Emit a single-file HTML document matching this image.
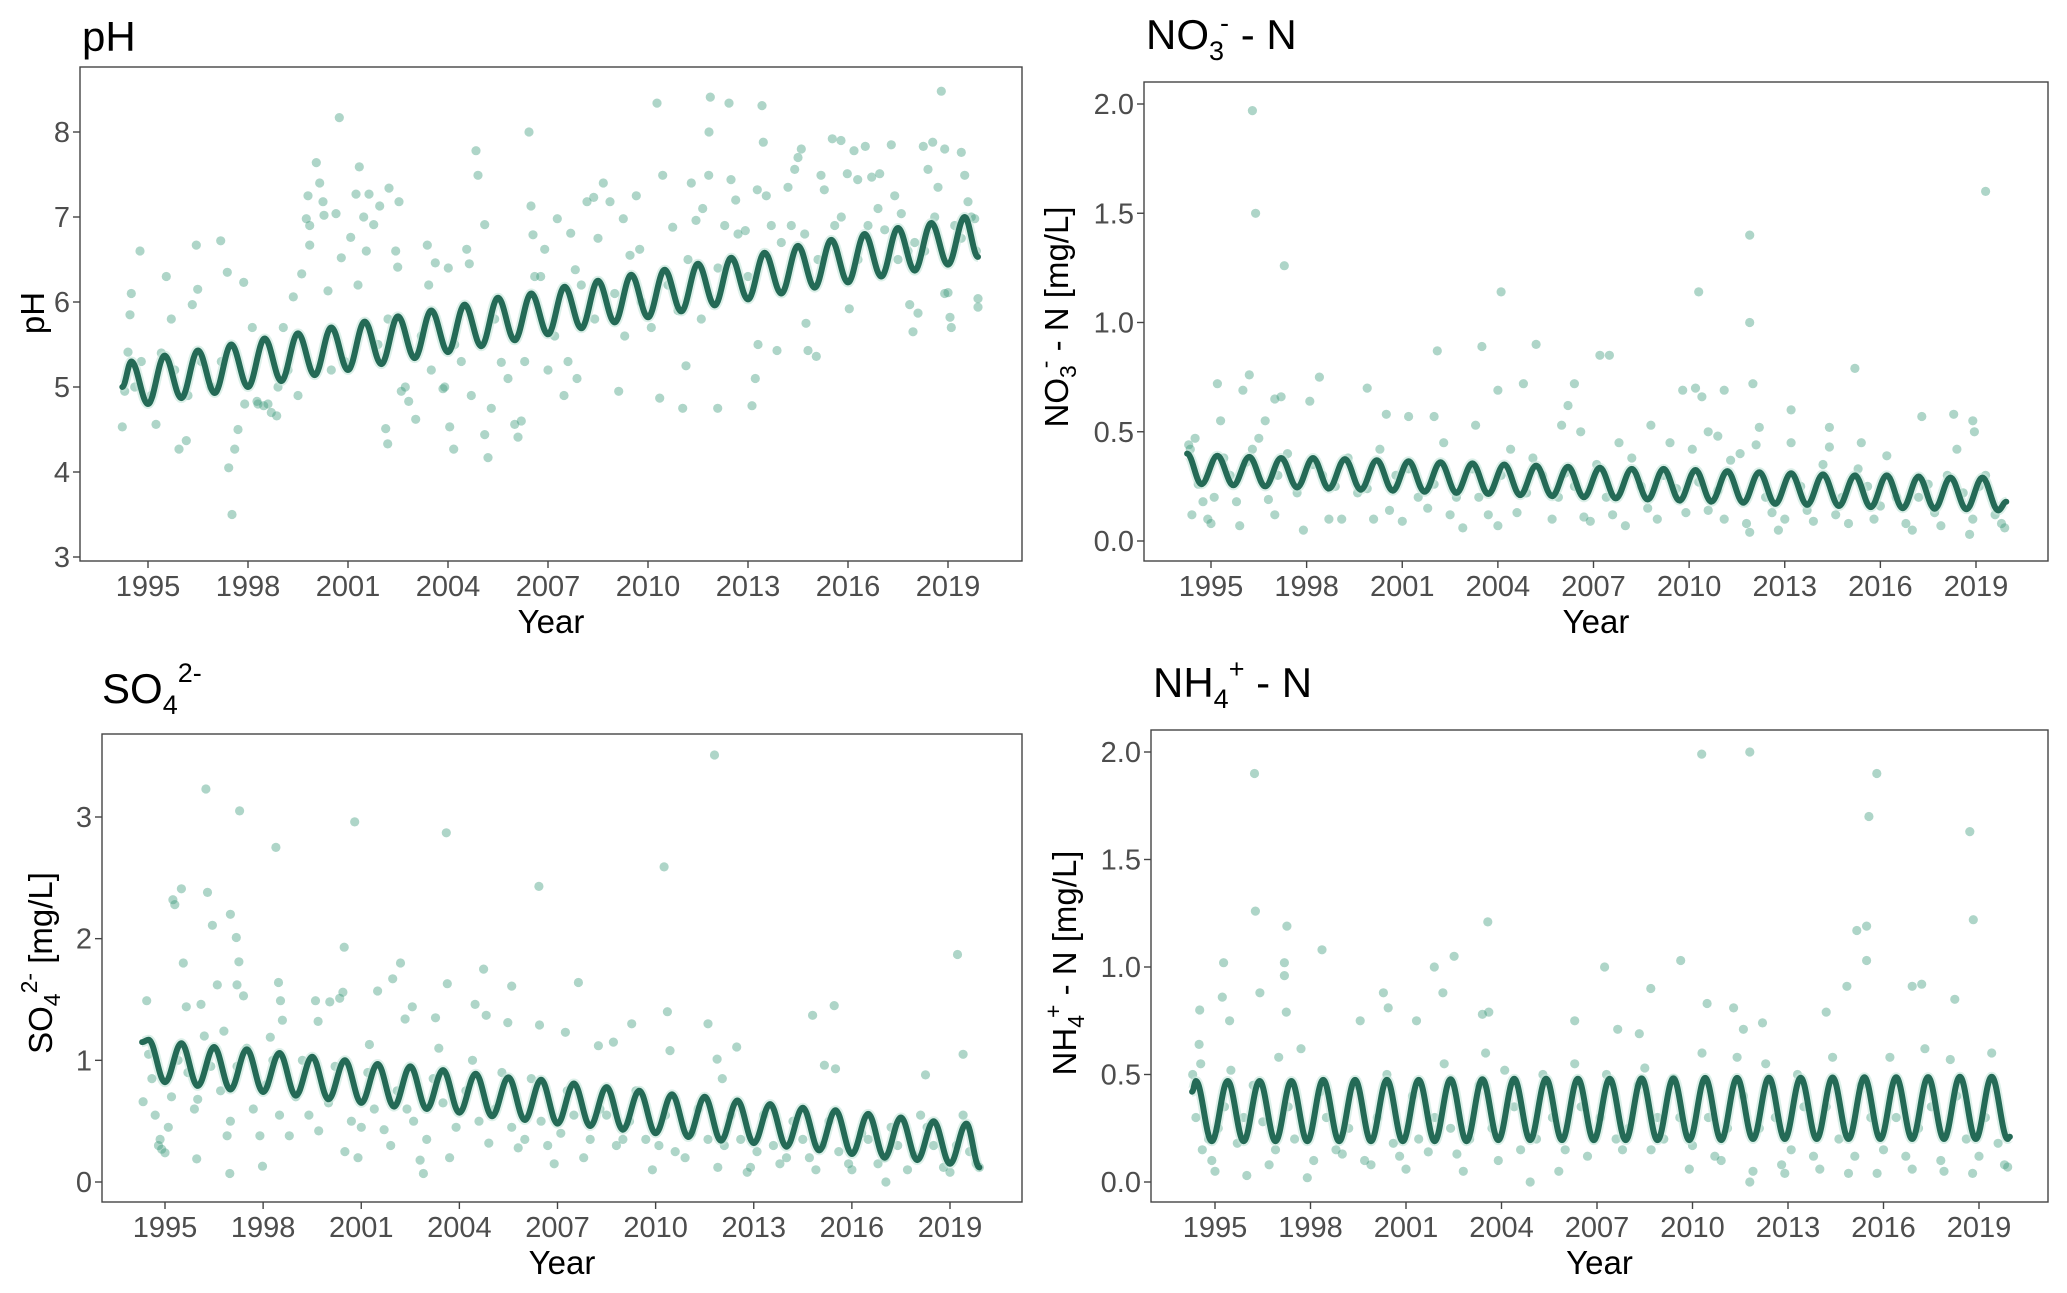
<!DOCTYPE html>
<html><head><meta charset="utf-8"><style>
html,body{margin:0;padding:0;background:#fff}
svg{display:block;font-family:"Liberation Sans",Arial,sans-serif}
</style></head><body>
<svg id="fig" width="2067" height="1293" viewBox="0 0 2067 1293" xmlns="http://www.w3.org/2000/svg">
<rect x="0" y="0" width="2067" height="1293" fill="#fff"/>
<g id="root"></g>
</svg>
<script>
// ---------- pH ----------
const phPtYears=[1994.23,1994.3,1994.4,1994.5,1994.46,1994.76,1994.8,1995.24,1995.55,1995.7,1995.93,1996.15,1996.33,1996.45,1996.49,1997.18,1997.38,1997.42,1997.52,1997.6,1997.87,1998.13,1998.27,1998.47,1998.86,1999.06,1999.36,1999.61,1999.75,1999.8,1999.85,1999.85,2000.05,2000.15,2000.25,2000.28,2000.4,2000.64,2000.74,2000.8,2001.08,2001.24,2001.34,2001.47,2001.55,2001.63,2001.77,2001.95,2002.23,2002.43,2002.49,2002.53,2002.13,2002.19,2002.72,2002.82,2003.03,2003.38,2003.42,2003.62,2004.01,2004.05,2004.17,2003.85,2004.56,2004.64,2004.84,2004.9,2005.1,2005.1,2005.2,2005.3,2005.6,2006.43,2006.49,2006.55,2006.0,2006.1,2006.78,2006.9,2007.28,2007.48,2007.68,2007.82,2007.87,2008.17,2008.37,2008.66,2008.86,2009.12,2009.26,2009.46,2009.65,2009.75,2010.27,2010.44,2010.35,2010.74,2011.04,2011.14,2011.3,2011.44,2011.64,2011.82,2011.87,2011.83,2012.09,2012.43,2012.49,2012.63,2012.92,2013.12,2013.22,2013.28,2013.42,2013.46,2013.55,2013.87,2014.2,2014.4,2014.5,2014.6,2014.74,2014.8,2015.05,2015.19,2015.29,2015.53,2015.79,2015.98,2016.04,2016.18,2016.29,2016.52,2016.71,2016.95,2017.3,2017.4,2017.6,2017.85,2017.95,2018.1,2018.26,2018.4,2018.54,2018.7,2018.8,2018.9,2019.0,2019.06,2019.1,2019.4,2019.5,2019.6,2019.8,2019.9,2019.9,
1994.6,1995.1,1995.4,1995.8,1996.2,1996.6,1996.9,1997.2,1997.7,1997.9,1998.3,1998.6,1998.7,1998.9,1999.2,1999.5,2000.5,2000.9,2001.3,2001.9,2002.2,2002.6,2003.2,2003.5,2003.9,2004.2,2004.4,2004.7,2005.4,2005.8,2006.2,2006.3,2006.6,2007.0,2007.2,2007.6,2008.0,2008.4,2008.5,2009.0,2009.3,2009.8,2010.1,2010.6,2010.9,2011.2,2011.6,2012.1,2012.3,2012.7,2013.0,2013.3,2013.7,2014.0,2014.3,2014.7,2015.1,2015.6,2015.8,2016.3,2016.6,2016.9,2017.1,2017.5,2017.8,2018.0,2018.3,2018.6,2018.9,2019.2,2019.4,2019.7,2019.85];
const phPtValues=[4.53,4.95,5.41,6.1,5.85,6.6,5.3,4.56,6.3,5.8,4.27,4.37,5.97,6.67,6.15,6.72,6.35,4.05,3.5,4.27,6.23,5.7,4.83,4.78,4.66,5.7,6.06,6.33,6.98,7.25,6.9,6.67,7.64,7.4,7.18,7.02,6.13,7.04,8.17,6.52,6.76,7.27,7.59,7.0,6.6,7.27,6.91,7.13,7.34,6.6,6.41,7.18,4.51,4.33,5.0,4.83,4.62,6.67,6.2,6.46,6.4,4.53,4.27,4.98,6.62,6.45,7.78,7.49,6.91,4.44,4.17,4.75,5.29,8.0,7.13,6.79,4.56,4.41,6.3,6.62,6.98,4.9,6.81,6.38,5.1,7.18,7.23,7.4,7.18,4.95,6.98,6.55,7.25,6.62,8.34,7.49,4.87,6.88,4.75,5.25,7.4,6.96,7.1,7.49,8.41,8.0,4.75,8.34,7.44,7.2,6.84,4.78,5.1,7.32,8.31,7.88,7.25,5.43,7.35,7.56,7.7,7.8,5.75,5.43,5.36,7.49,7.32,7.92,7.9,7.51,5.92,7.78,7.44,7.83,7.47,7.51,7.85,7.25,7.04,5.97,5.65,5.87,7.83,7.56,7.88,7.35,8.48,7.8,6.11,5.82,5.7,7.76,7.49,7.18,6.98,6.04,5.94,
5.0,4.9,5.4,5.2,4.9,5.3,5.0,5.3,4.5,4.8,4.8,4.8,4.7,5.0,5.2,4.9,5.2,5.3,6.2,5.5,5.8,4.95,5.6,5.2,5.0,5.5,5.3,4.9,5.8,5.1,4.6,5.3,6.3,5.2,5.6,5.3,6.2,5.8,6.75,6.1,5.6,6.0,5.7,6.2,5.9,6.5,5.8,6.4,6.9,6.8,6.3,5.5,6.9,6.7,6.9,6.8,6.5,6.9,7.0,6.5,6.9,7.1,6.85,6.5,6.6,6.7,6.6,7.0,6.1,6.9,6.75,7.0,6.6];
const phCurveYears=[1994.23,1994.5,1995,1995.5,1996,1996.5,1997,1997.5,1998,1998.5,1999,1999.5,2000,2000.5,2001,2001.5,2002,2002.5,2003,2003.5,2004,2004.5,2005,2005.5,2006,2006.5,2007,2007.5,2008,2008.5,2009,2009.5,2010,2010.5,2011,2011.5,2012,2012.5,2013,2013.5,2014,2014.5,2015,2015.5,2016,2016.5,2017,2017.5,2018,2018.5,2019,2019.5,2019.9];
const phCurveValues=[5.0,5.3,4.8,5.37,4.87,5.43,4.93,5.5,5.0,5.57,5.07,5.63,5.14,5.7,5.2,5.77,5.27,5.83,5.34,5.9,5.41,5.97,5.48,6.05,5.55,6.1,5.62,6.18,5.69,6.25,5.76,6.32,5.82,6.38,5.89,6.45,5.96,6.52,6.03,6.58,6.1,6.66,6.17,6.73,6.23,6.8,6.3,6.87,6.37,6.93,6.44,7.0,6.53];
const phYTicks=[3,4,5,6,7,8];

// ---------- NO3 ----------
const no3PtYears=[1996.3,1996.4,1997.3,2004.1,2010.3,2011.9,2011.9,2019.3,2002.1,2003.5,2005.2,2007.2,2007.5,2015.2,1998.4,1996.2,1995.2,1996.0,1999.9,2006.4,2004.0,2004.8,2010.2,2009.8,2010.4,2011.1,2012.0,1997.0,1997.2,1998.1,2006.2,2013.2,2018.3,2017.3,2018.9,2000.5,2001.2,2002.0,1995.3,1996.7,2003.3,2006.0,2006.6,2008.8,2010.6,2010.9,2012.2,2014.4,2015.4,2018.95,
1994.3,1994.35,1994.4,1994.5,1994.6,1994.75,1994.9,1995.0,1995.1,1995.4,1995.6,1995.8,1995.9,1996.1,1996.3,1996.5,1996.8,1997.0,1997.1,1997.4,1997.7,1997.9,1998.2,1998.5,1998.7,1998.9,1999.1,1999.3,1999.6,1999.9,2000.1,2000.3,2000.6,2000.8,2001.0,2001.2,2001.5,2001.8,2002.0,2002.3,2002.5,2002.7,2002.9,2003.2,2003.4,2003.7,2004.0,2004.1,2004.4,2004.6,2004.9,2005.1,2005.4,2005.7,2005.9,2006.1,2006.4,2006.7,2006.9,2007.1,2007.4,2007.6,2007.8,2008.0,2008.2,2008.5,2008.7,2009.0,2009.2,2009.4,2009.6,2009.9,2010.1,2010.3,2010.6,2010.9,2011.1,2011.3,2011.6,2011.8,2011.9,2012.1,2012.4,2012.6,2012.8,2013.0,2013.2,2013.5,2013.7,2013.9,2014.2,2014.4,2014.6,2014.8,2015.0,2015.3,2015.6,2015.8,2016.0,2016.2,2016.5,2016.8,2017.0,2017.2,2017.5,2017.7,2017.9,2018.1,2018.4,2018.6,2018.8,2018.9,2019.1,2019.3,2019.6,2019.8,2019.9];
const no3PtValues=[1.97,1.5,1.26,1.14,1.14,1.4,1.0,1.6,0.87,0.89,0.9,0.85,0.85,0.79,0.75,0.76,0.72,0.69,0.7,0.72,0.69,0.72,0.7,0.69,0.66,0.69,0.72,0.65,0.66,0.64,0.62,0.6,0.58,0.57,0.55,0.58,0.57,0.57,0.55,0.55,0.53,0.53,0.5,0.53,0.5,0.48,0.52,0.52,0.45,0.5,
0.44,0.42,0.12,0.47,0.26,0.18,0.1,0.08,0.2,0.38,0.3,0.18,0.07,0.36,0.42,0.47,0.19,0.12,0.3,0.4,0.22,0.05,0.35,0.3,0.1,0.25,0.1,0.38,0.22,0.24,0.1,0.42,0.14,0.3,0.09,0.33,0.2,0.15,0.26,0.45,0.12,0.2,0.06,0.33,0.2,0.12,0.07,0.3,0.42,0.13,0.22,0.38,0.3,0.1,0.2,0.31,0.25,0.11,0.09,0.35,0.2,0.12,0.45,0.07,0.38,0.25,0.15,0.1,0.3,0.45,0.24,0.13,0.42,0.27,0.14,0.23,0.1,0.37,0.4,0.08,0.04,0.44,0.2,0.13,0.05,0.1,0.45,0.25,0.14,0.09,0.35,0.43,0.12,0.2,0.08,0.33,0.25,0.1,0.16,0.39,0.2,0.08,0.05,0.2,0.26,0.13,0.07,0.3,0.42,0.22,0.03,0.1,0.25,0.3,0.12,0.08,0.06];
const no3CurveYears=[1994.25,1994.7,1995.2,1995.7,1996.2,1996.7,1997.2,1997.7,1998.2,1998.7,1999.2,1999.7,2000.2,2000.7,2001.2,2001.7,2002.2,2002.7,2003.2,2003.7,2004.2,2004.7,2005.2,2005.7,2006.2,2006.7,2007.2,2007.7,2008.2,2008.7,2009.2,2009.7,2010.2,2010.7,2011.2,2011.7,2012.2,2012.7,2013.2,2013.7,2014.2,2014.7,2015.2,2015.7,2016.2,2016.7,2017.2,2017.7,2018.2,2018.7,2019.2,2019.7,2019.95];
const no3CurveValues=[0.40,0.26,0.39,0.255,0.385,0.25,0.38,0.245,0.38,0.24,0.375,0.235,0.37,0.23,0.365,0.225,0.36,0.22,0.355,0.215,0.35,0.21,0.345,0.205,0.34,0.2,0.335,0.195,0.33,0.19,0.33,0.185,0.325,0.18,0.32,0.175,0.315,0.17,0.31,0.165,0.305,0.16,0.3,0.155,0.3,0.15,0.295,0.148,0.29,0.145,0.29,0.14,0.18];
const no3YTicks=[0,0.5,1.0,1.5,2.0];

// ---------- SO4 ----------
const so4PtYears=[1994.33,1994.44,1995.24,1995.3,1995.5,1995.56,1995.65,1995.97,1996.1,1996.25,1996.3,1996.45,1996.6,1996.8,1996.98,1997.0,1997.18,1997.26,1997.28,1997.2,1997.4,1997.98,1998.22,1998.39,1998.47,1998.53,1998.59,1999.6,1999.68,2000.04,2000.34,2000.44,2000.48,2000.8,2001.25,2001.5,2001.96,2002.2,2002.56,2002.34,2002.9,2003.27,2003.37,2003.6,2003.63,2004.48,2004.74,2004.82,2005.6,2005.48,2006.43,2006.45,2007.24,2007.64,2008.25,2008.71,2009.27,2010.26,2010.36,2010.44,2011.6,2011.8,2011.88,2012.04,2012.48,2014.8,2015.16,2015.46,2015.5,2017.04,2018.25,2019.23,2019.4,
1994.5,1994.6,1994.7,1994.8,1994.85,1994.9,1995.0,1995.1,1995.2,1995.4,1995.7,1995.9,1996.0,1996.2,1996.4,1996.7,1996.9,1997.0,1997.2,1997.5,1997.7,1997.9,1998.1,1998.3,1998.5,1998.8,1999.0,1999.2,1999.4,1999.7,2000.0,2000.2,2000.5,2000.7,2000.9,2001.0,2001.2,2001.4,2001.7,2001.9,2002.1,2002.4,2002.6,2002.8,2003.0,2003.2,2003.5,2003.7,2003.9,2004.2,2004.4,2004.6,2004.9,2005.1,2005.3,2005.6,2005.8,2006.0,2006.2,2006.5,2006.7,2006.9,2007.1,2007.3,2007.5,2007.8,2008.0,2008.3,2008.5,2008.8,2009.0,2009.2,2009.4,2009.7,2009.9,2010.1,2010.3,2010.6,2010.9,2011.1,2011.3,2011.6,2011.9,2012.1,2012.3,2012.6,2012.8,2012.9,2013.1,2013.3,2013.6,2013.8,2014.0,2014.2,2014.5,2014.7,2014.9,2015.1,2015.3,2015.6,2015.9,2016.0,2016.3,2016.5,2016.8,2017.0,2017.2,2017.4,2017.7,2017.9,2018.1,2018.3,2018.5,2018.8,2019.0,2019.2,2019.4,2019.6,2019.8,2019.9];
const so4PtValues=[0.66,1.49,2.32,2.28,2.41,1.8,1.44,0.19,1.46,3.23,2.38,2.11,1.62,1.24,0.07,2.2,2.01,1.81,3.05,1.62,1.53,0.13,1.19,2.75,1.64,1.49,1.33,1.49,1.32,1.48,1.51,1.56,1.93,2.96,1.13,1.57,1.67,1.8,1.44,1.34,0.07,1.35,1.1,2.87,1.63,1.46,1.75,1.37,1.61,1.31,2.43,1.29,1.23,1.64,1.12,1.15,1.3,2.59,1.4,1.08,1.3,3.51,1.01,0.85,1.11,1.37,0.96,1.45,0.93,0.0,0.88,1.87,1.05,
1.05,0.85,0.55,0.3,0.35,0.27,0.24,0.45,0.7,1.0,0.9,0.6,0.68,1.2,0.95,0.75,0.38,0.5,0.95,1.1,0.6,0.38,0.8,1.0,0.55,0.38,0.7,1.0,0.55,0.42,0.65,0.95,0.25,0.5,0.2,0.45,0.9,0.6,0.43,0.3,0.75,0.6,0.5,0.18,0.35,0.85,0.65,0.2,0.45,0.75,1.0,0.5,0.32,0.6,0.9,0.45,0.28,0.35,0.85,0.5,0.3,0.15,0.4,0.75,0.55,0.2,0.35,0.6,0.55,0.3,0.35,0.5,0.75,0.35,0.1,0.3,0.55,0.25,0.2,0.4,0.6,0.35,0.12,0.3,0.55,0.35,0.08,0.12,0.25,0.55,0.3,0.15,0.2,0.5,0.35,0.2,0.1,0.3,0.5,0.25,0.15,0.1,0.4,0.35,0.15,0.2,0.45,0.3,0.1,0.22,0.55,0.45,0.3,0.12,0.08,0.3,0.55,0.25,0.15,0.12];
const so4CurveYears=[1994.3,1994.5,1995,1995.5,1996,1996.5,1997,1997.5,1998,1998.5,1999,1999.5,2000,2000.5,2001,2001.5,2002,2002.5,2003,2003.5,2004,2004.5,2005,2005.5,2006,2006.5,2007,2007.5,2008,2008.5,2009,2009.5,2010,2010.5,2011,2011.5,2012,2012.5,2013,2013.5,2014,2014.5,2015,2015.5,2016,2016.5,2017,2017.5,2018,2018.5,2019,2019.5,2019.9];
const so4CurveValues=[1.15,1.17,0.82,1.14,0.79,1.11,0.76,1.09,0.74,1.06,0.71,1.03,0.68,1.00,0.65,0.97,0.62,0.95,0.60,0.92,0.57,0.89,0.54,0.86,0.51,0.84,0.48,0.81,0.46,0.78,0.43,0.75,0.40,0.72,0.37,0.70,0.34,0.67,0.32,0.64,0.29,0.61,0.26,0.59,0.23,0.56,0.20,0.53,0.18,0.50,0.15,0.48,0.12];
const so4YTicks=[0,1,2,3];

// ---------- NH4 ----------
const nh4PtYears=[1996.24,1996.27,1997.26,1997.18,1997.18,1997.24,1998.36,1995.27,1995.23,1996.41,1994.52,1995.46,2000.29,2000.44,1999.56,2001.89,2002.16,2002.51,2001.33,2003.57,2003.4,2003.6,2007.24,2008.69,2009.63,2010.29,2011.8,2010.46,2011.29,2014.85,2015.16,2015.47,2015.47,2015.54,2015.79,2017.2,2016.9,2018.24,2018.71,2018.82,2014.2,2012.2,2011.6,2006.3,2007.65,2008.33,
1994.3,1994.4,1994.5,1994.55,1994.6,1994.8,1994.9,1995.0,1995.1,1995.3,1995.5,1995.7,1995.9,1996.0,1996.2,1996.5,1996.7,1996.9,1997.0,1997.3,1997.5,1997.7,1997.9,1998.1,1998.3,1998.5,1998.8,1999.0,1999.2,1999.4,1999.7,1999.9,2000.1,2000.4,2000.6,2000.8,2001.0,2001.2,2001.4,2001.7,2001.9,2002.2,2002.4,2002.6,2002.8,2003.0,2003.3,2003.5,2003.7,2003.9,2004.1,2004.4,2004.6,2004.9,2005.1,2005.3,2005.6,2005.8,2006.0,2006.3,2006.5,2006.7,2006.9,2007.1,2007.3,2007.6,2007.8,2008.0,2008.3,2008.5,2008.7,2008.9,2009.1,2009.4,2009.6,2009.9,2010.0,2010.3,2010.5,2010.7,2010.9,2011.1,2011.4,2011.6,2011.8,2011.9,2012.1,2012.3,2012.6,2012.8,2012.9,2013.1,2013.3,2013.5,2013.8,2014.0,2014.2,2014.4,2014.6,2014.9,2015.1,2015.3,2015.6,2015.8,2016.0,2016.2,2016.4,2016.7,2016.9,2017.1,2017.3,2017.5,2017.8,2017.9,2018.1,2018.3,2018.6,2018.8,2019.0,2019.2,2019.4,2019.6,2019.8,2019.9];
const nh4PtValues=[1.9,1.26,1.19,1.02,0.96,0.79,1.08,1.02,0.86,0.88,0.8,0.75,0.88,0.81,0.75,1.0,0.88,1.05,0.75,1.21,0.78,0.79,1.0,0.9,1.03,1.99,2.0,0.83,0.81,0.91,1.17,1.19,1.03,1.7,1.9,0.92,0.91,0.85,1.63,1.22,0.79,0.74,0.71,0.75,0.71,0.69,
0.5,0.3,0.64,0.55,0.15,0.2,0.1,0.05,0.25,0.35,0.52,0.18,0.3,0.03,0.45,0.28,0.08,0.15,0.58,0.35,0.2,0.62,0.02,0.1,0.42,0.3,0.15,0.13,0.25,0.45,0.1,0.08,0.3,0.5,0.18,0.12,0.06,0.4,0.2,0.14,0.3,0.55,0.25,0.13,0.05,0.2,0.45,0.6,0.25,0.1,0.52,0.35,0.15,0.0,0.2,0.5,0.3,0.05,0.15,0.55,0.35,0.12,0.2,0.3,0.5,0.2,0.15,0.25,0.45,0.53,0.15,0.3,0.2,0.48,0.3,0.06,0.17,0.6,0.3,0.12,0.1,0.25,0.58,0.4,0.0,0.05,0.25,0.55,0.3,0.08,0.04,0.15,0.5,0.35,0.12,0.06,0.35,0.58,0.2,0.04,0.12,0.45,0.3,0.04,0.15,0.58,0.3,0.12,0.06,0.25,0.62,0.35,0.1,0.05,0.57,0.4,0.2,0.04,0.12,0.3,0.6,0.18,0.08,0.07];
const nh4CurveYears=[1994.28,1994.4,1994.9,1995.4,1995.9,1996.4,1996.9,1997.4,1997.9,1998.4,1998.9,1999.4,1999.9,2000.4,2000.9,2001.4,2001.9,2002.4,2002.9,2003.4,2003.9,2004.4,2004.9,2005.4,2005.9,2006.4,2006.9,2007.4,2007.9,2008.4,2008.9,2009.4,2009.9,2010.4,2010.9,2011.4,2011.9,2012.4,2012.9,2013.4,2013.9,2014.4,2014.9,2015.4,2015.9,2016.4,2016.9,2017.4,2017.9,2018.4,2018.9,2019.4,2019.9,2019.97];
const nh4CurveValues=[0.42,0.47,0.19,0.47,0.19,0.47,0.19,0.47,0.19,0.475,0.19,0.475,0.19,0.475,0.19,0.475,0.19,0.478,0.19,0.478,0.195,0.48,0.195,0.48,0.195,0.48,0.195,0.48,0.195,0.482,0.195,0.482,0.195,0.484,0.195,0.484,0.2,0.485,0.2,0.485,0.2,0.486,0.2,0.487,0.2,0.487,0.2,0.488,0.2,0.49,0.2,0.49,0.2,0.21];
const nh4YTicks=[0,0.5,1.0,1.5,2.0];

const xTickYears=[1995,1998,2001,2004,2007,2010,2013,2016,2019];

const NS='http://www.w3.org/2000/svg';
const root=document.getElementById('root');
function mk(tag,attrs,parent){const e=document.createElementNS(NS,tag);for(const k in attrs)e.setAttribute(k,attrs[k]);(parent||root).appendChild(e);return e;}

function panel(cfg){
  const g=mk('g',{});
  
  
  const sx=v=>cfg.x0+(v-1995)*(cfg.x1-cfg.x0)/24;
  const sy=v=>cfg.yA+(v-cfg.vA)*(cfg.yB-cfg.yA)/(cfg.vB-cfg.vA);
  const box=mk('rect',{x:cfg.L,y:cfg.T,width:cfg.R-cfg.L,height:cfg.B-cfg.T,fill:'none',stroke:'#444','stroke-width':1.4},g);
  
  
  const pg=mk('g',{},g);
  
  
  for(let i=0;i<cfg.px.length;i++){
    const c=mk('circle',{cx:sx(cfg.px[i]).toFixed(1),cy:sy(cfg.py[i]).toFixed(1),r:4.6,fill:'#3f9c7b','fill-opacity':0.42},pg);
    
    
  }
  let d='';
  for(let i=0;i<cfg.cx.length;i++){
    const X=sx(cfg.cx[i]),Y=sy(cfg.cy[i]);
    if(i===0){d+='M'+X.toFixed(1)+','+Y.toFixed(1);continue;}
    const PX=sx(cfg.cx[i-1]),PY=sy(cfg.cy[i-1]),k=(X-PX)*0.364;
    d+=' C'+(PX+k).toFixed(1)+','+PY.toFixed(1)+' '+(X-k).toFixed(1)+','+Y.toFixed(1)+' '+X.toFixed(1)+','+Y.toFixed(1);
  }
  const rib=mk('path',{d:d,fill:'none',stroke:'#c6e6da','stroke-width':10,'stroke-opacity':0.6,'stroke-linejoin':'round'},g);
  
  
  const ln=mk('path',{d:d,fill:'none',stroke:'#246a56','stroke-width':6,'stroke-linejoin':'round','stroke-linecap':'round'},g);
  
  
  cfg.yt.forEach(v=>{
    const y=sy(v);
    const t=mk('line',{x1:cfg.L-7,x2:cfg.L,y1:y,y2:y,stroke:'#444','stroke-width':1.4},g);
    
    
    const tx=mk('text',{x:cfg.L-10,y:y+10,'text-anchor':'end','font-size':29,fill:'#4d4d4d'},g);
    tx.textContent=cfg.fmt(v);
    
    
  });
  xTickYears.forEach(v=>{
    const x=sx(v);
    const t=mk('line',{x1:x,x2:x,y1:cfg.B,y2:cfg.B+7,stroke:'#444','stroke-width':1.4},g);
    
    
    const tx=mk('text',{x:x,y:cfg.B+35,'text-anchor':'middle','font-size':29,fill:'#4d4d4d'},g);
    tx.textContent=String(v);
    
    
  });
  const xt=mk('text',{x:(cfg.L+cfg.R)/2,y:cfg.B+72,'text-anchor':'middle','font-size':33,fill:'#000'},g);
  xt.textContent='Year';
  
  
  return g;
}
const f1=v=>v.toFixed(1), f0=v=>String(v);
panel({key:'ph',L:80,T:67,R:1022,B:561,x0:148,x1:948,vA:8,yA:132,vB:3,yB:557,yt:phYTicks,fmt:f0,px:phPtYears,py:phPtValues,cx:phCurveYears,cy:phCurveValues});
panel({key:'no3',L:1144,T:82,R:2048,B:561,x0:1211,x1:1976,vA:2,yA:104,vB:0,yB:541,yt:no3YTicks,fmt:f1,px:no3PtYears,py:no3PtValues,cx:no3CurveYears,cy:no3CurveValues});
panel({key:'so4',L:102,T:734,R:1022,B:1202,x0:165,x1:950,vA:3,yA:817,vB:0,yB:1182,yt:so4YTicks,fmt:f0,px:so4PtYears,py:so4PtValues,cx:so4CurveYears,cy:so4CurveValues});
panel({key:'nh4',L:1151,T:730,R:2048,B:1202,x0:1215,x1:1979,vA:2,yA:752,vB:0,yB:1182,yt:nh4YTicks,fmt:f1,px:nh4PtYears,py:nh4PtValues,cx:nh4CurveYears,cy:nh4CurveValues});
</script>
<script>
(function(){
const fig=document.getElementById('fig');
const html=`
<text x="82" y="51" font-size="42" fill="#000">pH</text>
<text x="1146" y="49" font-size="42" fill="#000">NO<tspan font-size="27" dy="11">3</tspan><tspan font-size="27" dy="-28" dx="-4">-</tspan><tspan dy="17"> - N</tspan></text>
<text x="102" y="703" font-size="42" fill="#000">SO<tspan font-size="27" dy="11">4</tspan><tspan font-size="27" dy="-32">2-</tspan></text>
<text x="1153" y="697" font-size="42" fill="#000">NH<tspan font-size="27" dy="11">4</tspan><tspan font-size="27" dy="-30">+</tspan><tspan dy="19"> - N</tspan></text>
<text transform="translate(44,313) rotate(-90)" text-anchor="middle" font-size="33" fill="#000">pH</text>
<text transform="translate(1068,317) rotate(-90)" text-anchor="middle" font-size="33" fill="#000">NO<tspan font-size="23" dy="8">3</tspan><tspan font-size="23" dy="-23" dx="-3">-</tspan><tspan dy="15"> - N  [mg/L]</tspan></text>
<text transform="translate(52,963) rotate(-90)" text-anchor="middle" font-size="33" fill="#000">SO<tspan font-size="23" dy="8">4</tspan><tspan font-size="23" dy="-23">2-</tspan><tspan dy="15">  [mg/L]</tspan></text>
<text transform="translate(1076,963) rotate(-90)" text-anchor="middle" font-size="33" fill="#000">NH<tspan font-size="23" dy="8">4</tspan><tspan font-size="23" dy="-23" dx="-3">+</tspan><tspan dy="15"> - N  [mg/L]</tspan></text>`;
const tmp=document.createElementNS('http://www.w3.org/2000/svg','g');
tmp.innerHTML=html;
fig.appendChild(tmp);
})();
</script>
</body></html>
